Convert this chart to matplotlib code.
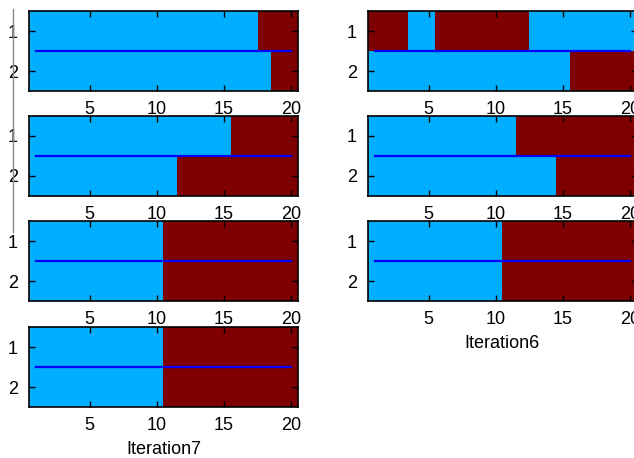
"""
Two-row state maps per iteration (MATLAB imagesc style), cyan = 0, dark red = 1.
"""

import matplotlib
matplotlib.use("Agg")

import matplotlib.pyplot as plt
from matplotlib.colors import ListedColormap
from matplotlib.lines import Line2D
import numpy as np

plt.rcParams["font.family"] = ["Liberation Sans", "DejaVu Sans"]

# cell states per panel, row 1 and row 2, columns 1..20
left_1 = [[0] * 17 + [1] * 3,
          [0] * 18 + [1] * 2]
left_2 = [[0] * 15 + [1] * 5,
          [0] * 11 + [1] * 9]
left_3 = [[0] * 10 + [1] * 10,
          [0] * 10 + [1] * 10]
left_4 = [[0] * 10 + [1] * 10,
          [0] * 10 + [1] * 10]

right_1 = [[1, 1, 1, 0, 0, 1, 1, 1, 1, 1, 1, 1, 0, 0, 0, 0, 0, 0, 0, 0],
           [0] * 15 + [1] * 5]
right_2 = [[0] * 11 + [1] * 9,
           [0] * 14 + [1] * 6]
right_3 = [[0] * 10 + [1] * 10,
           [0] * 10 + [1] * 10]

x_ticks = [5, 10, 15, 20]
y_ticks = [1, 2]
divider_x = [1, 20]
divider_y = [1.5, 1.5]

left_panels = [left_1, left_2, left_3, left_4]
right_panels = [right_1, right_2, right_3]
left_label = "Iteration7"
right_label = "Iteration6"

CYAN = "#00AEFF"
DARK_RED = "#7F0000"
cmap = ListedColormap([CYAN, DARK_RED])

W, H = 634, 458
fig = plt.figure(figsize=(W / 100, H / 100), dpi=100)


def add_panel(x0, top, grid, xlabel=None):
    ax = fig.add_axes([x0 / W, 1 - (top + 80) / H, 269 / W, 80 / H])
    data = np.array(grid)
    ax.imshow(data, cmap=cmap, vmin=0, vmax=1, aspect="auto",
              interpolation="nearest", extent=(0.5, 20.5, 2.5, 0.5))
    ax.plot(divider_x, divider_y, color="#0000FF", linewidth=1.6)
    ax.set_xlim(0.5, 20.5)
    ax.set_ylim(2.5, 0.5)
    ax.set_xticks(x_ticks)
    ax.set_yticks(y_ticks)
    ax.tick_params(direction="in", length=4, width=1, top=True, right=True,
                   labelsize=13, colors="black")
    ax.tick_params(axis="x", pad=7)
    ax.tick_params(axis="y", pad=8)
    for s in ax.spines.values():
        s.set_linewidth(1.2)
        s.set_color("black")
    if xlabel:
        ax.set_xlabel(xlabel, fontsize=13, labelpad=5)
    return ax


left_tops = [11, 116, 221, 327]
right_tops = [11, 116, 221]

for i, (top, grid) in enumerate(zip(left_tops, left_panels)):
    add_panel(29, top, grid, left_label if i == len(left_panels) - 1 else None)

for i, (top, grid) in enumerate(zip(right_tops, right_panels)):
    add_panel(368, top, grid, right_label if i == len(right_panels) - 1 else None)

# thin grey edge line left over on the left side
fig.add_artist(Line2D([12.5 / W, 12.5 / W], [1 - 9 / H, 1 - 232 / H],
                      color="#8C8C8C", linewidth=1.0))

fig.savefig("out.png", dpi=100)
